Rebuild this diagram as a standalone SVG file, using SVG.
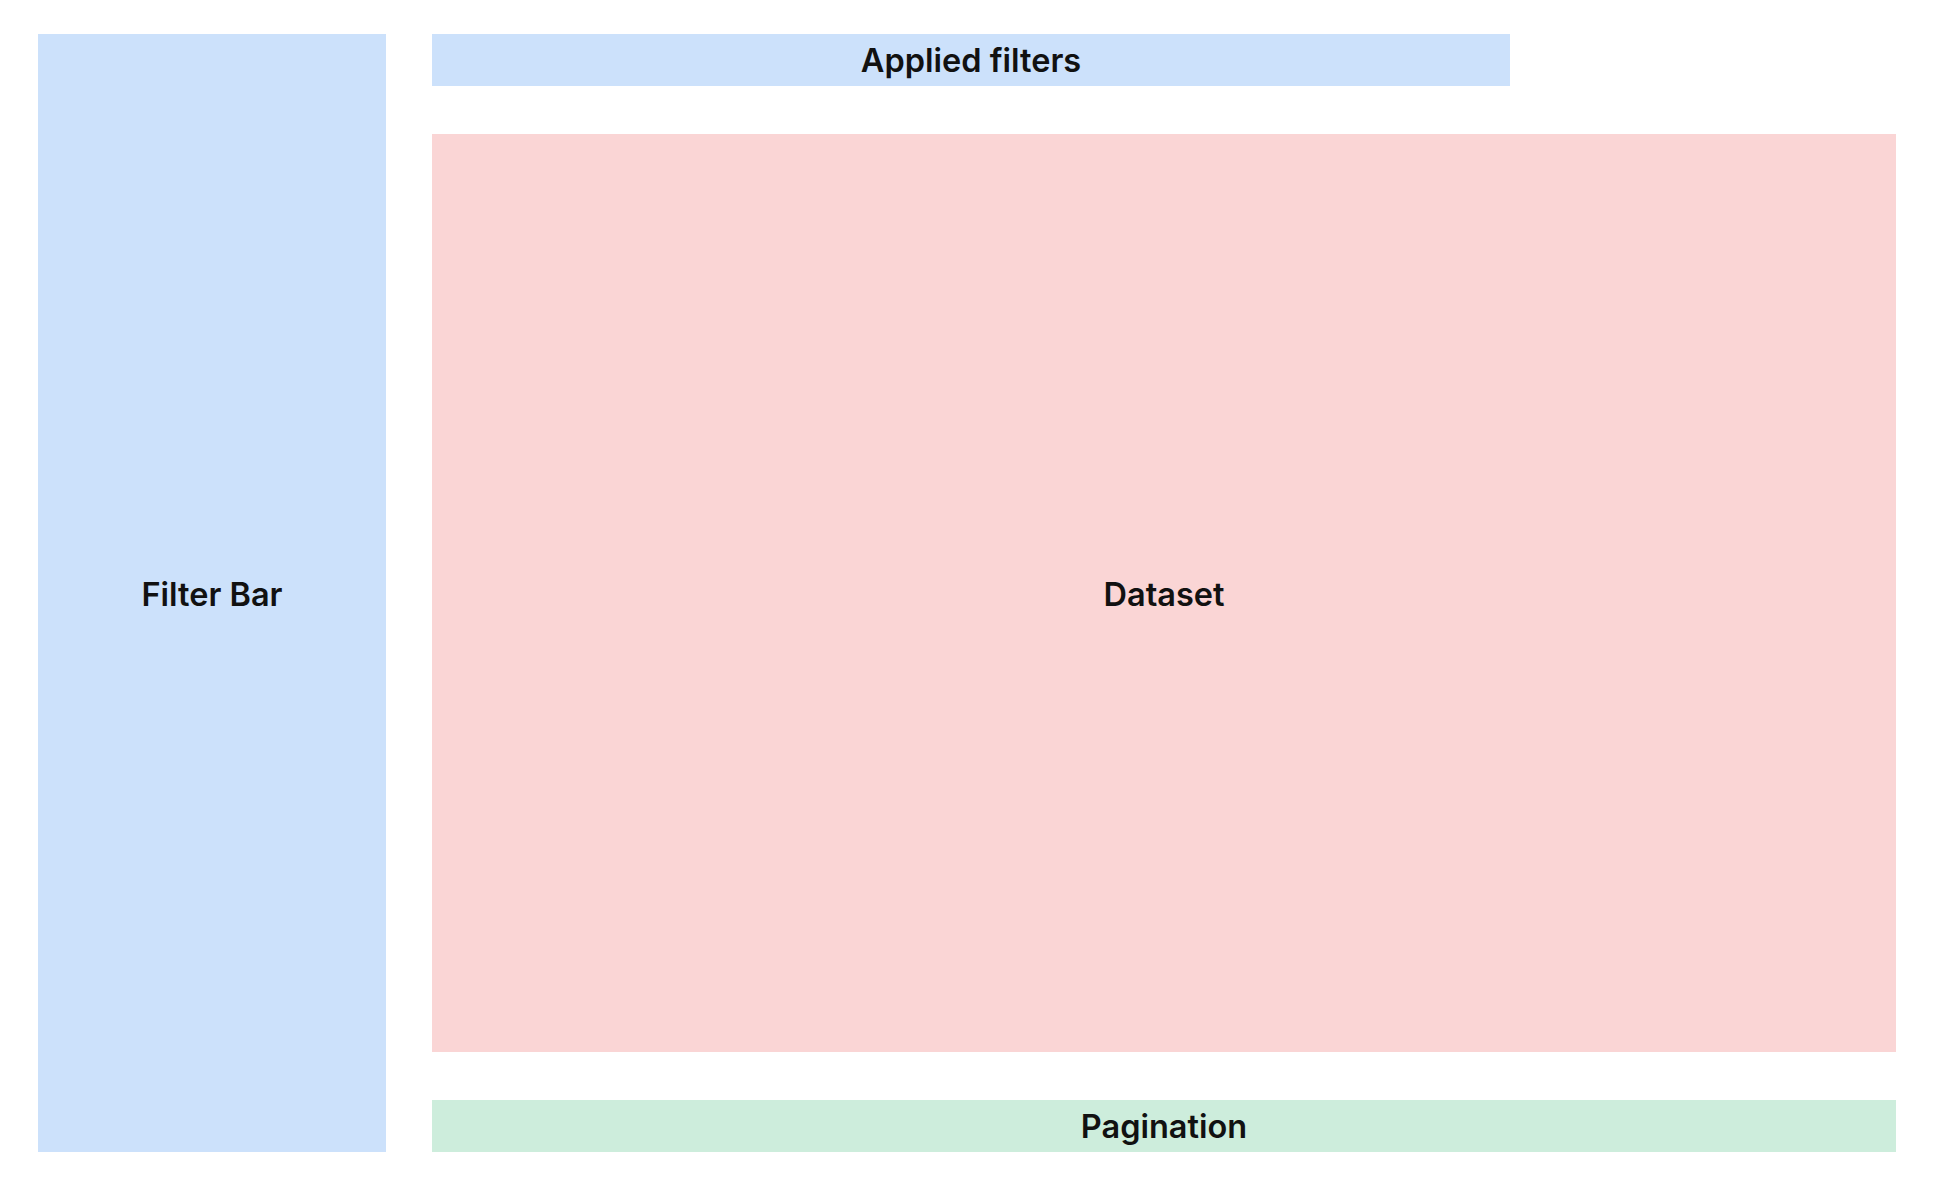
<svg xmlns="http://www.w3.org/2000/svg" width="1936" height="1194" viewBox="0 0 1936 1194">
<style>
.lbl{font-family:Inter,"Noto Sans","Liberation Sans",sans-serif;font-weight:600;font-size:32.5px;fill:#111111;text-anchor:middle;dominant-baseline:central}
.blue{fill:#cce1fb}.red{fill:#fad5d5}.green{fill:#cdeddc}
</style>
<rect width="1936" height="1194" fill="#ffffff"/>
<g id="filter-bar"><rect class="blue" x="38" y="34" width="348" height="1118"/><text class="lbl" x="212" y="594">Filter Bar</text></g>
<g id="applied-filters"><rect class="blue" x="432" y="34" width="1078" height="52"/><text class="lbl" x="971" y="60">Applied filters</text></g>
<g id="dataset"><rect class="red" x="432" y="134" width="1464" height="918"/><text class="lbl" x="1164" y="594">Dataset</text></g>
<g id="pagination"><rect class="green" x="432" y="1100" width="1464" height="52"/><text class="lbl" x="1164" y="1126">Pagination</text></g>
<g id="connectors"></g>
</svg>
